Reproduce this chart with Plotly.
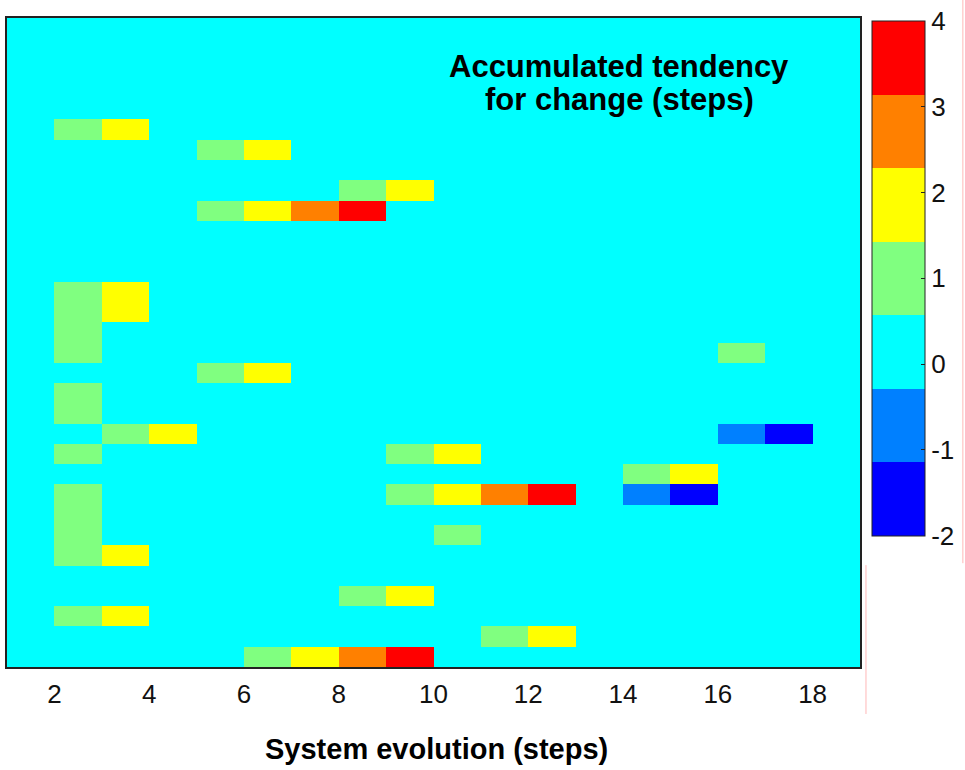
import plotly.graph_objects as go

# Steps (column edges) and row edges
step_edges = list(range(1, 20))          # 18 columns, x = 1..19
row_edges = list(range(0, 33))           # 32 rows
x_tick_vals = [2, 4, 6, 8, 10, 12, 14, 16, 18]
cbar_tick_vals = [-2, -1, 0, 1, 2, 3, 4]

# Accumulated tendency values, one list per row (top to bottom), columns x = 1..18
rows = [
    [0, 0, 0, 0, 0, 0, 0, 0, 0, 0, 0, 0, 0, 0, 0, 0, 0, 0],
    [0, 0, 0, 0, 0, 0, 0, 0, 0, 0, 0, 0, 0, 0, 0, 0, 0, 0],
    [0, 0, 0, 0, 0, 0, 0, 0, 0, 0, 0, 0, 0, 0, 0, 0, 0, 0],
    [0, 0, 0, 0, 0, 0, 0, 0, 0, 0, 0, 0, 0, 0, 0, 0, 0, 0],
    [0, 0, 0, 0, 0, 0, 0, 0, 0, 0, 0, 0, 0, 0, 0, 0, 0, 0],
    [0, 1, 2, 0, 0, 0, 0, 0, 0, 0, 0, 0, 0, 0, 0, 0, 0, 0],
    [0, 0, 0, 0, 1, 2, 0, 0, 0, 0, 0, 0, 0, 0, 0, 0, 0, 0],
    [0, 0, 0, 0, 0, 0, 0, 0, 0, 0, 0, 0, 0, 0, 0, 0, 0, 0],
    [0, 0, 0, 0, 0, 0, 0, 1, 2, 0, 0, 0, 0, 0, 0, 0, 0, 0],
    [0, 0, 0, 0, 1, 2, 3, 4, 0, 0, 0, 0, 0, 0, 0, 0, 0, 0],
    [0, 0, 0, 0, 0, 0, 0, 0, 0, 0, 0, 0, 0, 0, 0, 0, 0, 0],
    [0, 0, 0, 0, 0, 0, 0, 0, 0, 0, 0, 0, 0, 0, 0, 0, 0, 0],
    [0, 0, 0, 0, 0, 0, 0, 0, 0, 0, 0, 0, 0, 0, 0, 0, 0, 0],
    [0, 1, 2, 0, 0, 0, 0, 0, 0, 0, 0, 0, 0, 0, 0, 0, 0, 0],
    [0, 1, 2, 0, 0, 0, 0, 0, 0, 0, 0, 0, 0, 0, 0, 0, 0, 0],
    [0, 1, 0, 0, 0, 0, 0, 0, 0, 0, 0, 0, 0, 0, 0, 0, 0, 0],
    [0, 1, 0, 0, 0, 0, 0, 0, 0, 0, 0, 0, 0, 0, 0, 1, 0, 0],
    [0, 0, 0, 0, 1, 2, 0, 0, 0, 0, 0, 0, 0, 0, 0, 0, 0, 0],
    [0, 1, 0, 0, 0, 0, 0, 0, 0, 0, 0, 0, 0, 0, 0, 0, 0, 0],
    [0, 1, 0, 0, 0, 0, 0, 0, 0, 0, 0, 0, 0, 0, 0, 0, 0, 0],
    [0, 0, 1, 2, 0, 0, 0, 0, 0, 0, 0, 0, 0, 0, 0, -1, -2, 0],
    [0, 1, 0, 0, 0, 0, 0, 0, 1, 2, 0, 0, 0, 0, 0, 0, 0, 0],
    [0, 0, 0, 0, 0, 0, 0, 0, 0, 0, 0, 0, 0, 1, 2, 0, 0, 0],
    [0, 1, 0, 0, 0, 0, 0, 0, 1, 2, 3, 4, 0, -1, -2, 0, 0, 0],
    [0, 1, 0, 0, 0, 0, 0, 0, 0, 0, 0, 0, 0, 0, 0, 0, 0, 0],
    [0, 1, 0, 0, 0, 0, 0, 0, 0, 1, 0, 0, 0, 0, 0, 0, 0, 0],
    [0, 1, 2, 0, 0, 0, 0, 0, 0, 0, 0, 0, 0, 0, 0, 0, 0, 0],
    [0, 0, 0, 0, 0, 0, 0, 0, 0, 0, 0, 0, 0, 0, 0, 0, 0, 0],
    [0, 0, 0, 0, 0, 0, 0, 1, 2, 0, 0, 0, 0, 0, 0, 0, 0, 0],
    [0, 1, 2, 0, 0, 0, 0, 0, 0, 0, 0, 0, 0, 0, 0, 0, 0, 0],
    [0, 0, 0, 0, 0, 0, 0, 0, 0, 0, 1, 2, 0, 0, 0, 0, 0, 0],
    [0, 0, 0, 0, 0, 1, 2, 3, 4, 0, 0, 0, 0, 0, 0, 0, 0, 0],
]

# jet(7) colormap
jet7 = ["#0000ff", "#0080ff", "#00ffff", "#80ff80", "#ffff00", "#ff8000", "#ff0000"]
colorscale = []
n = len(jet7)
for i, c in enumerate(jet7):
    colorscale.append([i / n, c])
    colorscale.append([(i + 1) / n, c])

FONT = "Liberation Sans, Arial, Helvetica, sans-serif"

fig = go.Figure(go.Heatmap(
    z=rows,
    x=step_edges,
    y=row_edges,
    zmin=-2, zmax=4,
    colorscale=colorscale,
    hoverongaps=False,
    colorbar=dict(
        x=1.0129, xanchor="left",
        y=0.9958, yanchor="top",
        len=515, lenmode="pixels",
        thickness=53, thicknessmode="pixels",
        outlinewidth=1, outlinecolor="#222222",
        tickvals=cbar_tick_vals,
        ticktext=[str(v) for v in cbar_tick_vals],
        ticks="inside", ticklen=4, tickcolor="#222222",
        tickfont=dict(family=FONT, size=26, color="#111111"),
        xpad=0, ypad=0,
    ),
))

fig.update_layout(
    width=965, height=770,
    margin=dict(l=7, r=104, t=18, b=103),
    paper_bgcolor="white",
    plot_bgcolor="#00ffff",
    font=dict(family=FONT, color="#111111"),
    xaxis=dict(
        range=[1, 19], tickvals=x_tick_vals,
        ticktext=[str(v) for v in x_tick_vals],
        ticks="", showgrid=False, zeroline=False,
        showline=True, mirror=True, linecolor="#222222", linewidth=2,
        tickfont=dict(family=FONT, size=26, color="#111111"),
        ticklabelstandoff=3,
    ),
    yaxis=dict(
        range=[32, 0], showticklabels=False, ticks="",
        showgrid=False, zeroline=False,
        showline=True, mirror=True, linecolor="#222222", linewidth=2,
    ),
    annotations=[
        dict(text="<b>Accumulated tendency</b>", xref="paper", yref="paper",
             x=0.7178, y=0.9245, xanchor="center", yanchor="middle",
             showarrow=False, font=dict(family=FONT, size=31, color="black")),
        dict(text="<b>for change (steps)</b>", xref="paper", yref="paper",
             x=0.7178, y=0.8740, xanchor="center", yanchor="middle",
             showarrow=False, font=dict(family=FONT, size=31, color="black")),
        dict(text="<b>System evolution (steps)</b>", xref="paper", yref="paper",
             x=0.504, y=-0.126, xanchor="center", yanchor="middle",
             showarrow=False, font=dict(family=FONT, size=29, color="black")),
    ],
    shapes=[
        dict(type="line", xref="paper", yref="paper",
             x0=1.1206, x1=1.1206, y0=1.03, y1=0.160,
             line=dict(color="#ffb8b8", width=1)),
        dict(type="line", xref="paper", yref="paper",
             x0=1.0070, x1=1.0070, y0=0.157, y1=-0.0724,
             line=dict(color="#ffb8b8", width=1)),
    ],
)

fig.write_html("out.html", config={"displayModeBar": False},
               post_script="document.body.style.margin='0';")
